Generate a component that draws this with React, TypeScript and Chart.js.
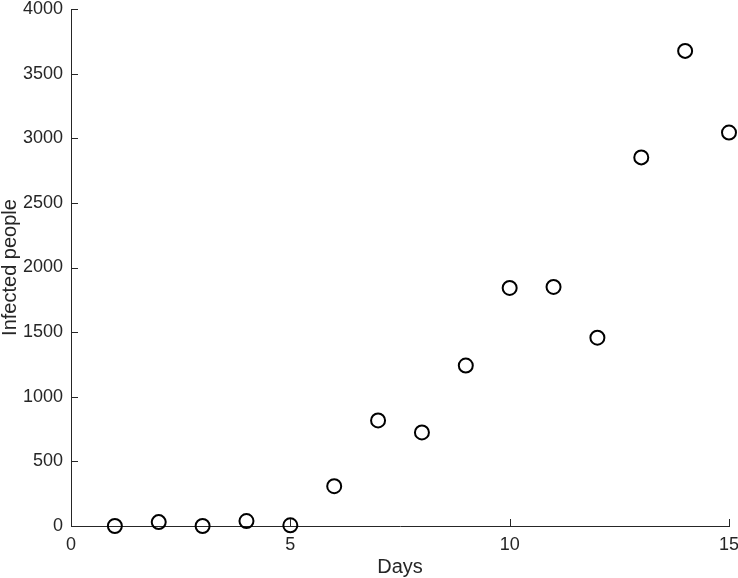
import React, { useEffect, useRef } from "react";
import { Chart, registerables } from "chart.js";

Chart.register(...registerables);

const days = [1, 2, 3, 4, 5, 6, 7, 8, 9, 10, 11, 12, 13, 14, 15];
const infected = [0, 30, 0, 38, 5, 308, 817, 724, 1241, 1842, 1850, 1457, 2852, 3676, 3044];
const xTicks = [0, 5, 10, 15];
const yTicks = [0, 500, 1000, 1500, 2000, 2500, 3000, 3500, 4000];

const AXIS = "#262626";
const FONT = "'Liberation Sans', Arial, Helvetica, sans-serif";

const inwardTicks = {
  id: "inwardTicks",
  afterDraw(chart: any) {
    const { ctx, chartArea } = chart;
    const xs = chart.scales.x;
    const ys = chart.scales.y;
    const len = 7;
    ctx.save();
    ctx.strokeStyle = AXIS;
    ctx.lineWidth = 1;
    ctx.beginPath();
    xTicks.forEach((v) => {
      const px = Math.round(xs.getPixelForValue(v)) + 0.5;
      ctx.moveTo(px, chartArea.bottom);
      ctx.lineTo(px, chartArea.bottom - len);
    });
    yTicks.forEach((v) => {
      const py = Math.round(ys.getPixelForValue(v)) + 0.5;
      ctx.moveTo(chartArea.left, py);
      ctx.lineTo(chartArea.left + len, py);
    });
    ctx.stroke();
    ctx.restore();
  },
};

export default function App() {
  const ref = useRef<HTMLCanvasElement | null>(null);
  useEffect(() => {
    if (!ref.current) return;
    const chart = new Chart(ref.current, {
      type: "scatter",
      data: {
        datasets: [
          {
            data: days.map((d, i) => ({ x: d, y: infected[i] })),
            pointStyle: "circle",
            pointRadius: 7,
            pointHoverRadius: 7,
            borderWidth: 2,
            pointBorderWidth: 2,
            borderColor: "#000000",
            pointBorderColor: "#000000",
            backgroundColor: "rgba(0,0,0,0)",
            pointBackgroundColor: "rgba(0,0,0,0)",
            clip: false as any,
          },
        ],
      },
      options: {
        responsive: false,
        animation: false,
        events: [],
        layout: { padding: { top: 7, right: 9, left: 0, bottom: 0 } },
        plugins: {
          legend: { display: false },
          tooltip: { enabled: false },
        },
        scales: {
          x: {
            type: "linear",
            min: 0,
            max: 15,
            afterBuildTicks: (s: any) => {
              s.ticks = xTicks.map((v) => ({ value: v }));
            },
            afterFit: (s: any) => {
              s.height = 52;
              s.paddingLeft = 0;
              s.paddingRight = 0;
            },
            grid: { display: true, drawOnChartArea: false, drawTicks: false },
            border: { display: true, color: AXIS, width: 1 },
            ticks: {
              color: AXIS,
              font: { family: FONT, size: 18 },
              padding: 8,
              maxRotation: 0,
              callback: (v: any) => String(v),
            },
            title: {
              display: true,
              text: "Days",
              color: AXIS,
              font: { family: FONT, size: 20 },
              padding: { top: 0, bottom: -1 },
            },
          },
          y: {
            type: "linear",
            min: 0,
            max: 4000,
            afterBuildTicks: (s: any) => {
              s.ticks = yTicks.map((v) => ({ value: v }));
            },
            afterFit: (s: any) => {
              s.width = 71;
              s.paddingTop = 0;
              s.paddingBottom = 0;
            },
            grid: { display: true, drawOnChartArea: false, drawTicks: false },
            border: { display: true, color: AXIS, width: 1 },
            ticks: {
              color: AXIS,
              font: { family: FONT, size: 18 },
              padding: 8,
              callback: (v: any) => String(v),
            },
            title: {
              display: true,
              text: "Infected people",
              color: AXIS,
              font: { family: FONT, size: 20, lineHeight: 1 },
              padding: { top: 0, bottom: 0 },
            },
          },
        },
      },
      plugins: [inwardTicks],
    });
    return () => chart.destroy();
  }, []);
  return (
    <div style={{ position: "fixed", left: 0, top: 0, width: 738, height: 578, background: "#fff" }}>
      <canvas ref={ref} width={738} height={578} style={{ display: "block" }} />
    </div>
  );
}
